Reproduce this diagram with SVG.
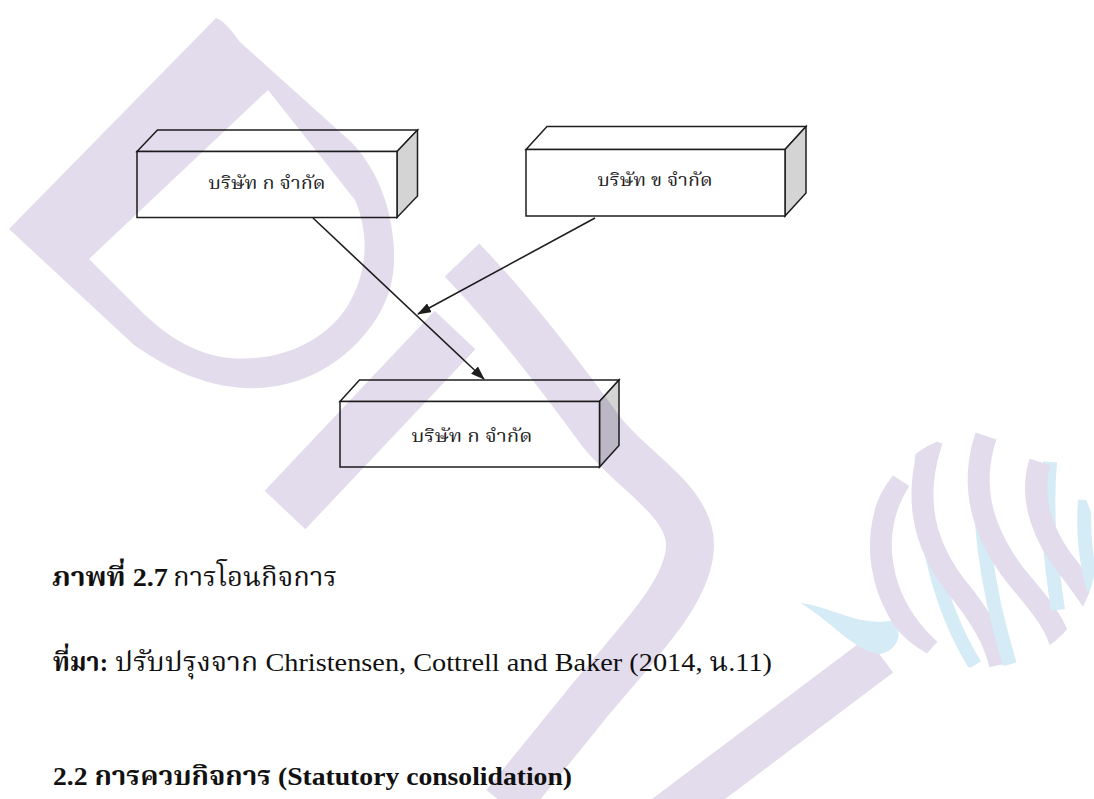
<svg xmlns="http://www.w3.org/2000/svg" width="1094" height="799" viewBox="0 0 1094 799">
  <defs>
    <style>
      .wm { fill: none; stroke: #e3dcec; stroke-linecap: butt; }
      .wmf { fill: #e3dcec; }
      .rib-p { fill: none; stroke: #e3dcec; stroke-width: 22; }
      .rib-b { fill: none; stroke: #d5ebf5; stroke-width: 14; }
      .front { fill: #ffffff; stroke: #1e1e1e; stroke-width: 1.5; }
      .top { fill: #ffffff; stroke: #1e1e1e; stroke-width: 1.5; stroke-linejoin: miter; }
      .side { fill: #d4d4d4; stroke: #1e1e1e; stroke-width: 1.5; }
      .lbl { font-family: "Liberation Serif", "Norasi", "Kinnari", "Noto Serif Thai", "Noto Sans Thai", serif; font-size: 17px; fill: #222; text-anchor: middle; }
      .cap { font-family: "Liberation Serif", "Norasi", "Kinnari", "Noto Serif Thai", "Noto Sans Thai", serif; font-size: 26px; fill: #111; }
      .b { font-weight: bold; }
      .conn { stroke: #1e1e1e; stroke-width: 1.6; fill: none; marker-end: url(#arrow); }
      #emblem { mix-blend-mode: multiply; }
    </style>
    <marker id="arrow" viewBox="0 0 14 10" refX="13" refY="5" markerWidth="14" markerHeight="10" markerUnits="userSpaceOnUse" orient="auto">
      <path d="M0,0 L14,5 L0,10 Z" fill="#1e1e1e"/>
    </marker>
    <clipPath id="ball">
      <ellipse cx="982" cy="550" rx="115" ry="118"/>
    </clipPath>
  </defs>

  <rect width="1094" height="799" fill="#ffffff"/>

  <!-- connectors -->
  <g id="connectors">
    <line class="conn" x1="313" y1="218" x2="484" y2="379"/>
    <line class="conn" x1="595" y1="218" x2="418" y2="314"/>
  </g>

  <!-- company A (source) -->
  <g id="box-a">
    <polygon class="top" points="137,151.5 157.5,130 417.5,130 397,151.5"/>
    <polygon class="side" points="397,151.5 417.5,130 417.5,196 397,217.5"/>
    <rect class="front" x="137" y="151.5" width="260" height="66"/>
    <text class="lbl" x="267" y="189" textLength="117" lengthAdjust="spacingAndGlyphs">บริษัท ก จำกัด</text>
  </g>

  <!-- company B -->
  <g id="box-b">
    <polygon class="top" points="526,149.5 547,126.5 806,126.5 785,149.5"/>
    <polygon class="side" points="785,149.5 806,126.5 806,193 785,216"/>
    <rect class="front" x="526" y="149.5" width="259" height="66.5"/>
    <text class="lbl" x="655" y="186" textLength="115" lengthAdjust="spacingAndGlyphs">บริษัท ข จำกัด</text>
  </g>

  <!-- company A (result) -->
  <g id="box-result">
    <polygon class="top" points="340,401.5 359.5,380 619,380 599.5,401.5"/>
    <polygon class="side" points="599.5,401.5 619,380 619,445.5 599.5,467"/>
    <rect class="front" x="340" y="401.5" width="259.5" height="65.5"/>
    <text class="lbl" x="472" y="442" textLength="121" lengthAdjust="spacingAndGlyphs">บริษัท ก จำกัด</text>
  </g>

  <!-- caption and source -->
  <g id="captions">
    <text class="cap b" x="52" y="586" textLength="116" lengthAdjust="spacingAndGlyphs">ภาพที่ 2.7</text>
    <text class="cap" x="173" y="586" textLength="164" lengthAdjust="spacingAndGlyphs">การโอนกิจการ</text>
    <text class="cap b" x="53" y="671" textLength="55" lengthAdjust="spacingAndGlyphs">ที่มา:</text>
    <text class="cap" x="115" y="671" textLength="657" lengthAdjust="spacingAndGlyphs">ปรับปรุงจาก Christensen, Cottrell and Baker (2014, น.11)</text>
    <text class="cap b" x="53" y="785" textLength="519" lengthAdjust="spacingAndGlyphs">2.2 การควบกิจการ (Statutory consolidation)</text>
  </g>

  <!-- translucent emblem laid over the page -->
  <g id="emblem">
    <!-- letter D -->
    <path class="wmf" fill-rule="evenodd" d="M216,18 C226,22 232,32 240,42 L349,140 C375,165 392,205 394,250 C396,290 380,320 355,345 C325,375 285,390 245,388 C205,386 170,370 134,345 L9,229 Z M268,90 L89,259 L140,310 C165,335 195,355 230,358 C275,362 320,345 345,310 C368,275 370,235 355,200 Z"/>
    <!-- letter P -->
    <path class="wm" stroke-width="56" d="M285,510 L455,330"/>
    <path class="wm" stroke-width="48" d="M462,260 C510,310 560,375 600,430 C630,470 690,500 690,545 C690,590 640,640 590,700 L505,805"/>
    <!-- letter U, right arm -->
    <path class="wm" stroke-width="44" d="M880,655 L650,828"/>
    <!-- swoosh tail -->
    <path fill="#d5ebf5" d="M800,603 C830,606 860,628 895,620 C905,640 892,652 880,654 C855,652 830,620 800,603 Z"/>
    <!-- sphere ribbons -->
    <g clip-path="url(#ball)">
      <path class="rib-p" d="M900,480 C868,530 875,600 930,650"/>
      <path class="rib-b" d="M922,445 C920,520 935,600 975,665"/>
      <path class="rib-p" d="M932,440 C912,500 925,545 955,585 C980,615 995,640 1000,665"/>
      <path class="rib-b" d="M982,438 C975,520 990,600 1010,665"/>
      <path class="rib-p" d="M986,436 C968,490 985,535 1015,575 C1040,605 1058,625 1062,650"/>
      <path class="rib-b" d="M1050,462 C1045,520 1052,570 1058,610"/>
      <path class="rib-p" d="M1040,462 C1028,500 1045,540 1070,570 C1085,590 1092,600 1098,610"/>
      <path class="rib-b" d="M1085,500 C1082,540 1088,570 1094,590"/>
    </g>
  </g>
</svg>
